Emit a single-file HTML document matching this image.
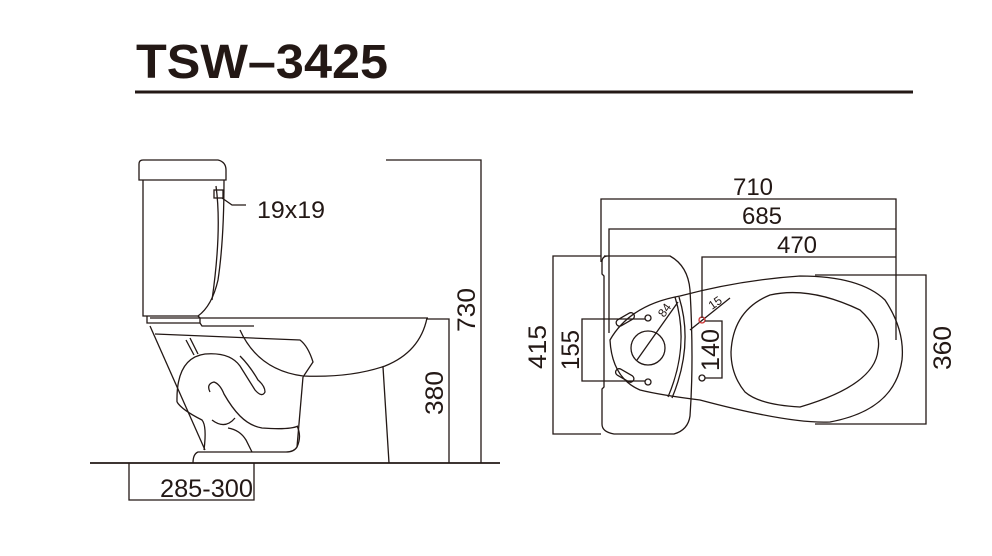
<!DOCTYPE html>
<html><head><meta charset="utf-8"><style>
html,body{margin:0;padding:0;background:#fff;width:992px;height:556px;overflow:hidden}
svg{display:block}
text{font-family:"Liberation Sans",sans-serif;fill:#231815}
</style></head><body>
<svg width="992" height="556" viewBox="0 0 992 556" xmlns="http://www.w3.org/2000/svg">
<g fill="none" stroke="#231815" stroke-width="1.3">
<text x="136" y="78" font-size="48" font-weight="bold" textLength="252" lengthAdjust="spacingAndGlyphs" stroke="none">TSW–3425</text>
<line x1="135" y1="92" x2="913" y2="92" stroke-width="3"/>

<line x1="90" y1="463" x2="500" y2="463" stroke-width="1.8"/>
<path d="M139,180 L139,164 Q139,160 143,160 L218,160 Q226,162 226,170 L226,180 Z"/>
<path d="M143,180 L143,316 L198,316 Q212,306 218,280 Q224,240 224,180"/>
<path d="M216,186 Q222,230 212,300"/>
<rect x="214" y="190" width="9" height="8"/>
<polyline points="222,198 232,205 246,205"/>
<text x="257" y="218" font-size="24" textLength="68" lengthAdjust="spacingAndGlyphs" stroke="none">19x19</text>
<path d="M147,316 L147,323 L150,323 M150,318 L200,318 L200,323 L150,323 M200,318 L428,318"/>
<path d="M198,316 L200,318"/>
<path d="M200,323 L202,326 L254,326"/>
<path d="M427,318 Q420,352 385,366 Q350,378 303,376 Q258,370 240,330"/>
<path d="M383,367 L389,463"/>
<path d="M150,326 L205,450"/>
<path d="M155,334 L300,340 Q308,346 313,362 L303,377"/>
<path d="M190,338 L198,354"/>
<path d="M186,340 L194,355"/>
<path d="M177,402 Q176,358 205,354 Q230,352 240,366 Q250,382 255,390 Q262,398 265,392 Q265,386 258,380 Q250,366 240,356"/>
<path d="M177,402 Q182,410 202,420 Q207,426 204,450"/>
<path d="M210,392 Q206,384 214,382 Q220,384 224,394 Q232,408 240,416 Q250,426 262,428 Q290,430 298,426"/>
<path d="M228,428 Q240,430 246,440 L252,452"/>
<path d="M212,420 Q225,430 235,418"/>
<path d="M297,426 Q302,436 297,447 Q294,452 286,452 L198,452 Q193,454 193,463"/>
<path d="M303,377 L297,447"/>
<polyline points="386,160 481,160 481,463"/>
<polyline points="427,319 449,319 449,463"/>
<text transform="translate(475,310) rotate(-90)" font-size="25" text-anchor="middle" textLength="44" lengthAdjust="spacingAndGlyphs" stroke="none">730</text>
<text transform="translate(443,393) rotate(-90)" font-size="25" text-anchor="middle" textLength="44" lengthAdjust="spacingAndGlyphs" stroke="none">380</text>
<polyline points="129,463 129,500 254,500 254,463"/>
<text x="160" y="497" font-size="25" textLength="93" lengthAdjust="spacingAndGlyphs" stroke="none">285-300</text>

<path d="M604,256 L670,256 Q688,266 690,290 Q694,360 690,416 Q688,430 674,434 L614,434 Q602,432 602,424 L602,389 L604,387 L604,276 L602,274 L602,262 Q602,256 608,256"/>
<path d="M610,340 Q630,305 680,296 Q740,280 800,276 Q860,276 885,300 Q905,330 902,360 Q895,410 830,422 Q790,424 700,400 Q660,395 640,390 Q612,378 610,340 Z"/>
<path d="M731,352 Q733,310 770,295 Q810,286 860,310 Q882,330 878,350 Q875,385 800,407 Q760,405 745,392 Q731,375 731,352 Z"/>
<path d="M675,297 Q690,345 668,397"/>
<path d="M679,297 Q694,345 672,398"/>
<circle cx="648" cy="348" r="17"/>
<line x1="637" y1="360" x2="678" y2="302"/>
<text transform="translate(664,318) rotate(-55)" font-size="12" stroke="none">84</text>
<line x1="690" y1="330" x2="730" y2="298"/>
<text transform="translate(712,310) rotate(-35)" font-size="12" stroke="none">15</text>
<circle cx="648" cy="318" r="3"/><circle cx="648" cy="382" r="3"/>
<circle cx="702" cy="320" r="3" stroke="#c33"/><circle cx="702" cy="378" r="3"/>
<rect x="615" y="316" width="20" height="7" rx="3.5" transform="rotate(-30 625 319)"/>
<rect x="615" y="372" width="20" height="7" rx="3.5" transform="rotate(30 625 375)"/>
<polyline points="601,262 601,199 896,199 896,340"/>
<text x="753" y="195" font-size="24" text-anchor="middle" stroke="none">710</text>
<polyline points="609,333 609,229 896,229"/>
<text x="762" y="224" font-size="24" text-anchor="middle" stroke="none">685</text>
<polyline points="702,318 702,257 896,257"/>
<text x="797" y="253" font-size="24" text-anchor="middle" stroke="none">470</text>
<polyline points="601,256 553,256 553,434 601,434"/>
<text transform="translate(546,347) rotate(-90)" font-size="25" text-anchor="middle" textLength="44" lengthAdjust="spacingAndGlyphs" stroke="none">415</text>
<polyline points="815,275 926,275 926,424 815,424"/>
<text transform="translate(951,348) rotate(-90)" font-size="25" text-anchor="middle" textLength="44" lengthAdjust="spacingAndGlyphs" stroke="none">360</text>
<polyline points="645,319 582,319 582,381 645,381"/>
<text transform="translate(579,350) rotate(-90)" font-size="25" text-anchor="middle" textLength="40" lengthAdjust="spacingAndGlyphs" stroke="none">155</text>
<polyline points="705,321 722,321 722,378 705,378"/>
<text transform="translate(719,350) rotate(-90)" font-size="25" text-anchor="middle" textLength="42" lengthAdjust="spacingAndGlyphs" stroke="none">140</text>
</g>
</svg>
</body></html>
